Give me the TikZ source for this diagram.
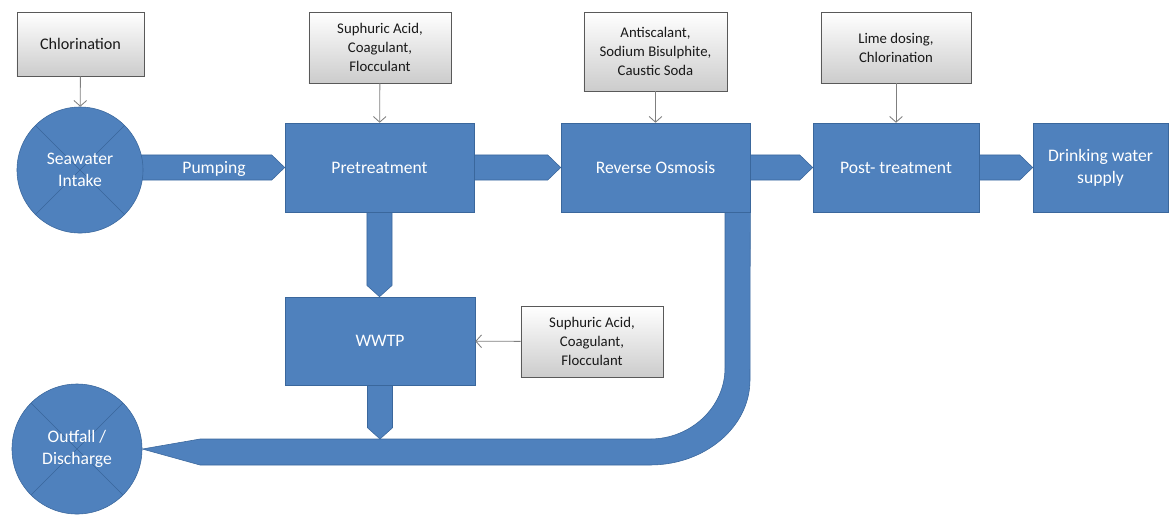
\documentclass[tikz,border=0pt]{standalone}
\usepackage{fontspec}
\setmainfont{Carlito}
\usetikzlibrary{arrows.meta,shadows,calc,backgrounds}

\definecolor{flowblue}{HTML}{4F81BD}
\definecolor{flowedge}{HTML}{3A679C}
\definecolor{feedgray}{HTML}{7F7F7F}

\tikzset{
  unit/.style={draw=flowedge, fill=flowblue, text=white, align=center, inner sep=0pt,
    font=\fontsize{12.5}{15.5}\selectfont},
  site/.style={unit, circle, path picture={
    \draw[flowedge] (path picture bounding box.north west) -- (path picture bounding box.south east)
                    (path picture bounding box.north east) -- (path picture bounding box.south west);}},
  dosing/.style={draw=gray!70!black, top color=white, bottom color=gray!40, text=black!90,
    align=center, inner sep=0pt, font=\fontsize{10.5}{13.5}\selectfont,
    drop shadow={shadow xshift=1pt, shadow yshift=-1pt, opacity=0.35}},
  feed/.style={draw=feedgray, semithick, -{Straight Barb[length=4pt,width=9pt]}},
  flow/.style={fill=flowblue, draw=flowedge, line join=miter}
}

% block arrow to the right, from #1 to #2
\newcommand{\flowright}[2]{%
  \path[flow] let \p1=(#1.east), \p2=(#2.west) in
    (\x1-3pt,\y2+8.9pt) -- (\x2-9.2pt,\y2+8.9pt) -- (\x2,\y2)
    -- (\x2-9.2pt,\y2-8.9pt) -- (\x1-3pt,\y2-8.9pt) -- cycle;}
% block arrow downwards, from #1 to #2
\newcommand{\flowdown}[2]{%
  \path[flow] let \p1=(#1.south), \p2=(#2) in
    (\x1-8.9pt,\y1+3pt) -- (\x1-8.9pt,\y2+8pt) -- (\x1,\y2)
    -- (\x1+8.9pt,\y2+8pt) -- (\x1+8.9pt,\y1+3pt) -- cycle;}

\begin{document}
\begin{tikzpicture}[x=0.025cm, y=-0.025cm]
\useasboundingbox (0,0) rectangle (1169,516);

% treatment units
\node[unit, minimum width=4.725cm, minimum height=2.225cm] (pretreat) at (379.5,167.5) {Pretreatment};
\node[unit, minimum width=4.725cm, minimum height=2.225cm] (ro) at (655.5,167.5) {Reverse Osmosis};
\node[unit, minimum width=4.15cm, minimum height=2.225cm] (post) at (896,167.5) {Post- treatment};
\node[unit, minimum width=3.375cm, minimum height=2.225cm] (supply) at (1100.5,167.5) {Drinking water\\supply};
\node[unit, minimum width=4.75cm, minimum height=2.2cm] (wwtp) at (380,341) {WWTP};

% intake and outfall
\node[site, minimum size=3.15cm] (intake) at (80,170) {Seawater\\Intake};
\node[site, minimum size=3.25cm] (outfall) at (77,449) {Outfall /\\Discharge};

% chemical dosing
\node[dosing, minimum width=3.175cm, minimum height=1.6cm, font=\fontsize{11.5}{14}\selectfont] (chlor) at (80.5,44) {Chlorination};
\node[dosing, minimum width=3.55cm, minimum height=1.775cm] (pretreatdose) at (380,47.5) {Suphuric Acid,\\Coagulant,\\Flocculant};
\node[dosing, minimum width=3.575cm, minimum height=1.975cm] (rodose) at (655.5,51.5) {Antiscalant,\\Sodium Bisulphite,\\Caustic Soda};
\node[dosing, minimum width=3.75cm, minimum height=1.775cm] (postdose) at (896,47.5) {Lime dosing,\\Chlorination};
\node[dosing, minimum width=3.55cm, minimum height=1.775cm] (wwtpdose) at (592,341.5) {Suphuric Acid,\\Coagulant,\\Flocculant};

\draw[feed] (chlor) -- (intake);
\draw[feed] (pretreatdose) -- (pretreat);
\draw[feed] (rodose) -- (ro);
\draw[feed] (postdose) -- (post);
\draw[feed] (wwtpdose) -- (wwtp);

\coordinate (pipetop) at (wwtp.south |- 0,439);

\begin{pgfonlayer}{background}
  \flowright{intake}{pretreat}
  \flowright{pretreat}{ro}
  \flowright{ro}{post}
  \flowright{post}{supply}
  \flowdown{pretreat}{wwtp.north}
  % brine line from RO down and back to the outfall
  \path[flow] (ro.south east) -- (750,380) .. controls (750,427) and (705,465) .. (650,465)
    -- (200,465) -- (outfall.east) -- (200,439) -- (650,439)
    .. controls (691,439) and (725,407) .. (725,368) -- (725,205) -- cycle;
  \flowdown{wwtp}{pipetop}
\end{pgfonlayer}

\node[text=white, font=\fontsize{12.5}{15.5}\selectfont] (pumping) at ($(intake.east)!0.5!(pretreat.west)$) {Pumping};

\end{tikzpicture}
\end{document}
